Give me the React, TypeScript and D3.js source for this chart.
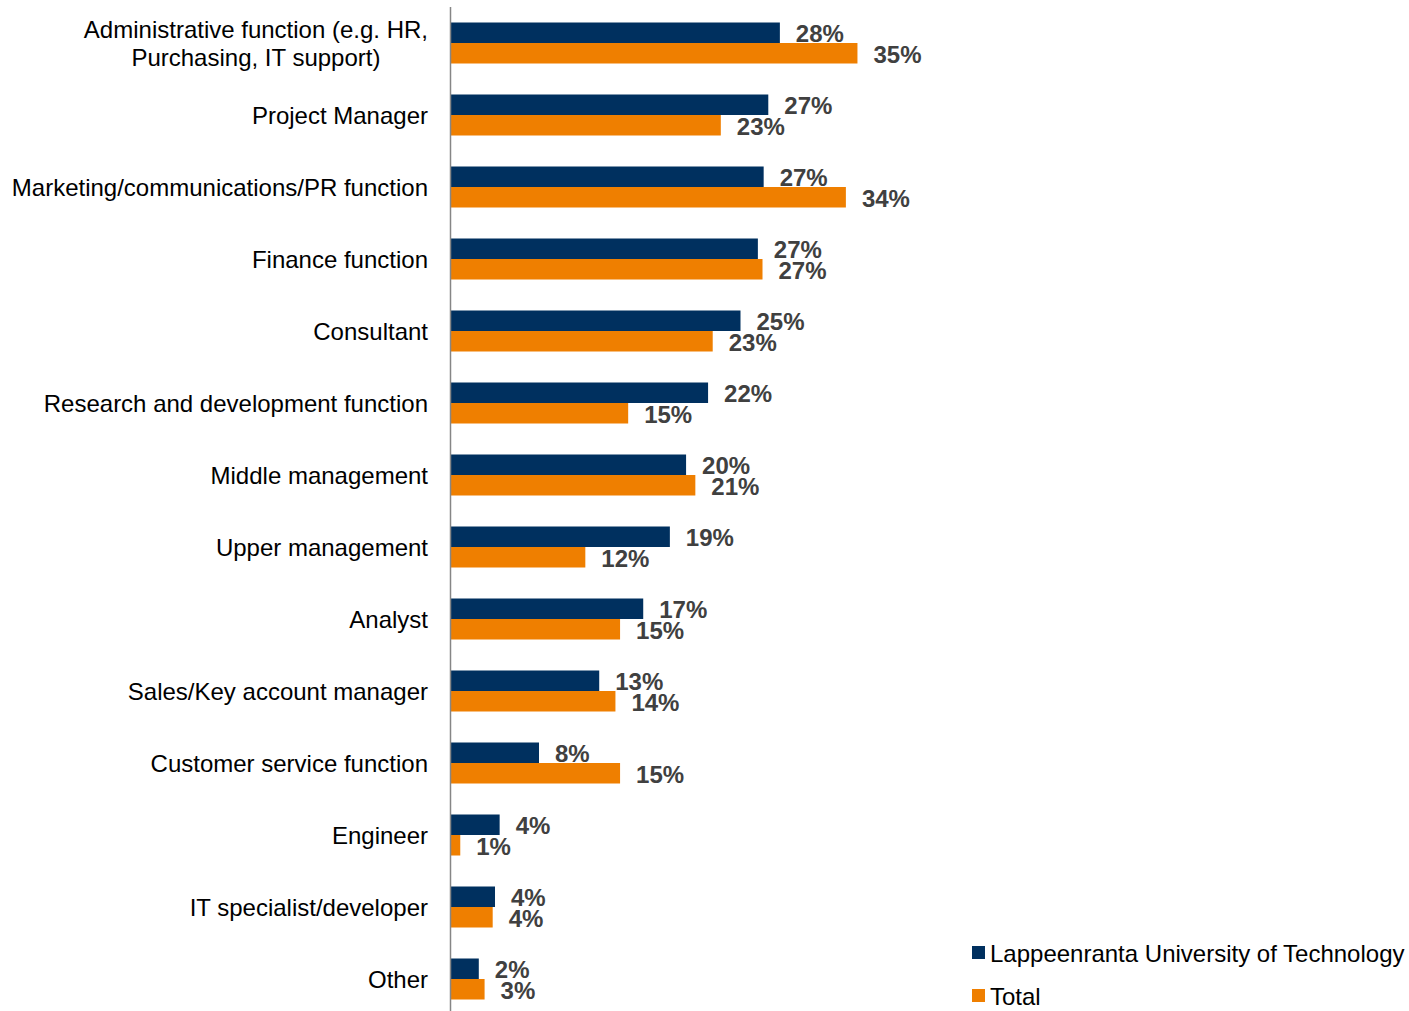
import React, { useLayoutEffect, useRef, useState } from "react";
import * as d3 from "d3";

const categories = [
  "Administrative function (e.g. HR,\nPurchasing, IT support)",
  "Project Manager",
  "Marketing/communications/PR function",
  "Finance function",
  "Consultant",
  "Research and development function",
  "Middle management",
  "Upper management",
  "Analyst",
  "Sales/Key account manager",
  "Customer service function",
  "Engineer",
  "IT specialist/developer",
  "Other",
];

const lutValues = [28.4, 27.4, 27.0, 26.5, 25.0, 22.2, 20.3, 18.9, 16.6, 12.8, 7.6, 4.2, 3.8, 2.4];
const totalValues = [35.1, 23.3, 34.1, 26.9, 22.6, 15.3, 21.1, 11.6, 14.6, 14.2, 14.6, 0.8, 3.6, 2.9];
const lutLabels = ["28%", "27%", "27%", "27%", "25%", "22%", "20%", "19%", "17%", "13%", "8%", "4%", "4%", "2%"];
const totalLabels = ["35%", "23%", "34%", "27%", "23%", "15%", "21%", "12%", "15%", "14%", "15%", "1%", "4%", "3%"];

const seriesNames = ["Lappeenranta University of Technology", "Total"];
const seriesColors = ["#00305f", "#ef7f00"];

const W = 1409;
const H = 1011;
const FONT = "'Liberation Sans', Arial, sans-serif";
const LABEL_RIGHT = 428;

function CategoryLabel({ text, cy }: { text: string; cy: number }) {
  const lines = text.split("\n");
  const lh = 28;
  const ref = useRef<SVGTextElement>(null);
  const [maxW, setMaxW] = useState<number | null>(null);
  useLayoutEffect(() => {
    if (lines.length > 1 && ref.current) {
      const spans = ref.current.querySelectorAll("tspan");
      let m = 0;
      spans.forEach((s) => {
        m = Math.max(m, (s as SVGTextContentElement).getComputedTextLength());
      });
      setMaxW(m);
    }
  }, [text]);
  if (lines.length === 1) {
    return (
      <text x={LABEL_RIGHT} y={cy + 8.5} fontSize={24} fill="#000" textAnchor="end">
        {text}
      </text>
    );
  }
  const cx = maxW == null ? LABEL_RIGHT : LABEL_RIGHT - maxW / 2;
  return (
    <text ref={ref} fontSize={24} fill="#000" textAnchor={maxW == null ? "end" : "middle"}>
      {lines.map((ln, k) => (
        <tspan key={k} x={cx} y={cy + 8.5 + (k - (lines.length - 1) / 2) * lh}>
          {ln}
        </tspan>
      ))}
    </text>
  );
}

export default function App() {
  const x = d3.scaleLinear().domain([0, 100]).range([451, 451 + 1158]);
  const y = d3
    .scaleBand<string>()
    .domain(categories)
    .range([7, 1015])
    .paddingInner(31 / 72)
    .paddingOuter(15.5 / 72);
  const sub = d3
    .scaleBand<string>()
    .domain(["lut", "total"])
    .range([0, y.bandwidth()]);

  const series = [
    { key: "lut", values: lutValues, labels: lutLabels, color: seriesColors[0] },
    { key: "total", values: totalValues, labels: totalLabels, color: seriesColors[1] },
  ];

  return (
    <svg
      width={W}
      height={H}
      style={{ position: "absolute", left: 0, top: 0, background: "#fff" }}
      fontFamily={FONT}
    >
      {categories.map((c, i) => {
        const y0 = y(c)!;
        const cy = y0 + y.bandwidth() / 2;
        return (
          <g key={c}>
            {series.map((s) => {
              const by = y0 + sub(s.key)!;
              const bh = sub.bandwidth();
              const xe = x(s.values[i]);
              return (
                <g key={s.key}>
                  <rect x={x(0)} y={by} width={xe - x(0)} height={bh} fill={s.color} />
                  <text
                    x={xe + 16}
                    y={by + bh / 2 + 9.5}
                    fontSize={24}
                    fontWeight="bold"
                    fill="#404040"
                  >
                    {s.labels[i]}
                  </text>
                </g>
              );
            })}
            <CategoryLabel text={c} cy={cy} />
          </g>
        );
      })}
      <line x1={450.5} x2={450.5} y1={7} y2={1015} stroke="#868686" strokeWidth={1.5} />
      {seriesNames.map((n, i) => (
        <g key={n} transform={`translate(972, ${946 + i * 43})`}>
          <rect x={0} y={0} width={13} height={13} fill={seriesColors[i]} />
          <text x={18} y={15.5} fontSize={24} fill="#000">
            {n}
          </text>
        </g>
      ))}
    </svg>
  );
}
